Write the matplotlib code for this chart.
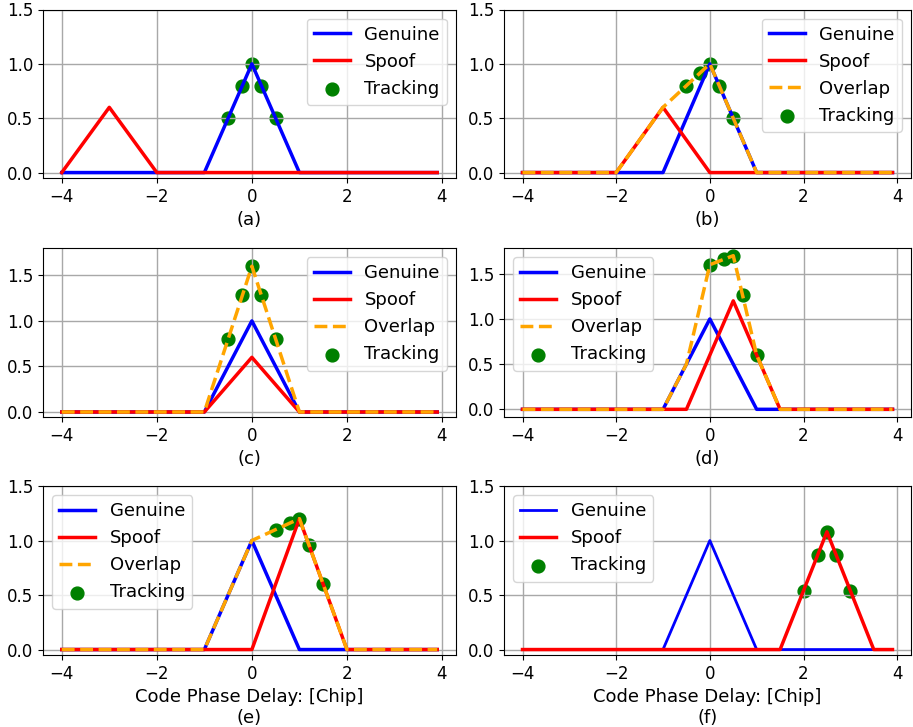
import matplotlib
matplotlib.use("Agg")
import matplotlib.pyplot as plt

# ---- data (vertices of piecewise-linear correlation curves) ----
gen_x = [-4, -1, 0, 1, 3.9]
gen_y = [0, 0, 1.0, 0, 0]

# (a)
a_spoof_x = [-4, -3, -2, 3.9]
a_spoof_y = [0, 0.6, 0, 0]
a_track_x = [-0.5, -0.2, 0, 0.2, 0.5]
a_track_y = [0.5, 0.8, 1.0, 0.8, 0.5]

# (b)
b_spoof_x = [-4, -2, -1, 0, 3.9]
b_spoof_y = [0, 0, 0.6, 0, 0]
b_over_x = [-4, -2, -1, 0, 1, 3.9]
b_over_y = [0, 0, 0.6, 1.0, 0, 0]
b_track_x = [-0.5, -0.2, 0, 0.2, 0.5]
b_track_y = [0.8, 0.92, 1.0, 0.8, 0.5]

# (c)
c_spoof_x = [-4, -1, 0, 1, 3.9]
c_spoof_y = [0, 0, 0.6, 0, 0]
c_over_x = [-4, -1, 0, 1, 3.9]
c_over_y = [0, 0, 1.6, 0, 0]
c_track_x = [-0.5, -0.2, 0, 0.2, 0.5]
c_track_y = [0.8, 1.28, 1.6, 1.28, 0.8]

# (d)
d_spoof_x = [-4, -0.5, 0.5, 1.5, 3.9]
d_spoof_y = [0, 0, 1.2, 0, 0]
d_over_x = [-4, -1, -0.5, 0, 0.5, 1, 1.5, 3.9]
d_over_y = [0, 0, 0.5, 1.6, 1.7, 0.6, 0, 0]
d_track_x = [0, 0.3, 0.5, 0.7, 1.0]
d_track_y = [1.6, 1.66, 1.7, 1.26, 0.6]

# (e)
e_spoof_x = [-4, 0, 1, 2, 3.9]
e_spoof_y = [0, 0, 1.2, 0, 0]
e_over_x = [-4, -1, 0, 1, 2, 3.9]
e_over_y = [0, 0, 1.0, 1.2, 0, 0]
e_track_x = [0.5, 0.8, 1.0, 1.2, 1.5]
e_track_y = [1.1, 1.16, 1.2, 0.96, 0.6]

# (f)
f_spoof_x = [-4, 1.5, 2.5, 3.5, 3.9]
f_spoof_y = [0, 0, 1.08, 0, 0]
f_track_x = [2.0, 2.3, 2.5, 2.7, 3.0]
f_track_y = [0.54, 0.864, 1.08, 0.864, 0.54]

xticks = [-4, -2, 0, 2, 4]
yticks = [0, 0.5, 1.0, 1.5]

panels = [
    dict(sx=a_spoof_x, sy=a_spoof_y, ox=None, oy=None, tx=a_track_x, ty=a_track_y,
         label="(a)", ylim=(-0.05, 1.5), loc="upper right", glw=2.5),
    dict(sx=b_spoof_x, sy=b_spoof_y, ox=b_over_x, oy=b_over_y, tx=b_track_x, ty=b_track_y,
         label="(b)", ylim=(-0.05, 1.5), loc="upper right", glw=2.5),
    dict(sx=c_spoof_x, sy=c_spoof_y, ox=c_over_x, oy=c_over_y, tx=c_track_x, ty=c_track_y,
         label="(c)", ylim=(-0.055, 1.8), loc="upper right", glw=2.5),
    dict(sx=d_spoof_x, sy=d_spoof_y, ox=d_over_x, oy=d_over_y, tx=d_track_x, ty=d_track_y,
         label="(d)", ylim=(-0.085, 1.785), loc="upper left", glw=2.5),
    dict(sx=e_spoof_x, sy=e_spoof_y, ox=e_over_x, oy=e_over_y, tx=e_track_x, ty=e_track_y,
         label="Code Phase Delay: [Chip]\n(e)", ylim=(-0.05, 1.5), loc="upper left", glw=2.5),
    dict(sx=f_spoof_x, sy=f_spoof_y, ox=None, oy=None, tx=f_track_x, ty=f_track_y,
         label="Code Phase Delay: [Chip]\n(f)", ylim=(-0.05, 1.5), loc="upper left", glw=2.0),
]

W, H = 913, 727
fig = plt.figure(figsize=(W / 100, H / 100), dpi=100)

cols = [(43, 456), (504, 911)]
rows = [(9.5, 178), (248, 417), (486, 655)]

for i, p in enumerate(panels):
    r, c = divmod(i, 2)
    l, rr = cols[c]
    t, b = rows[r]
    ax = fig.add_axes([l / W, 1 - b / H, (rr - l) / W, (b - t) / H])
    ax.plot(gen_x, gen_y, color="blue", lw=p["glw"], label="Genuine")
    ax.plot(p["sx"], p["sy"], color="red", lw=2.5, label="Spoof")
    if p["ox"] is not None:
        ax.plot(p["ox"], p["oy"], color="orange", lw=2.5, ls="--", label="Overlap")
    ax.scatter(p["tx"], p["ty"], color="green", s=85, label="Tracking", zorder=1)
    ax.set_ylim(*p["ylim"])
    ax.set_yticks(yticks)
    ax.set_xticks(xticks)
    ax.tick_params(labelsize=12)
    ax.grid(True, color="#a8a8a8", lw=1.0)
    ax.set_xlabel(p["label"], fontsize=13)
    ax.legend(loc=p["loc"], fontsize=13)

fig.savefig("out.png", dpi=100)
